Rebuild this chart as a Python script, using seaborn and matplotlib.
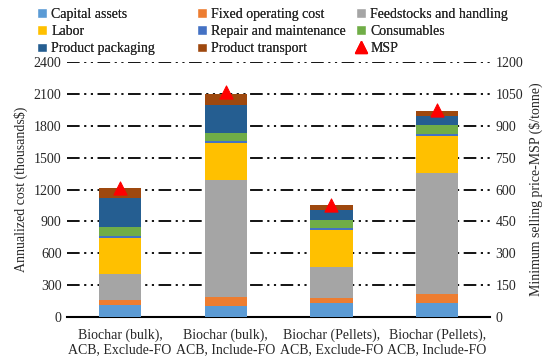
import numpy as np
import pandas as pd
import matplotlib
matplotlib.use('Agg')
import matplotlib.pyplot as plt
import seaborn as sns
from matplotlib.patches import Patch
from matplotlib.lines import Line2D

scenarios = ['Biochar (bulk),\nACB, Exclude-FO', 'Biochar (bulk),\nACB, Include-FO',
             'Biochar (Pellets),\nACB, Exclude-FO', 'Biochar (Pellets),\nACB, Include-FO']
components = ['Capital assets', 'Fixed operating cost', 'Feedstocks and handling', 'Labor',
              'Repair and maintenance', 'Consumables', 'Product packaging', 'Product transport']
capital = [113, 106, 129, 129]
fixed_op = [47, 85, 53, 84]
feedstock = [245, 1098, 285, 1145]
labor = [335, 346, 352, 348]
repair = [20, 20, 20, 20]
consumables = [90, 80, 73, 81]
packaging = [267, 265, 94, 85]
transport = [94, 95, 44, 47]
msp = [609, 1061, 528, 974]

colors = ['#5B9BD5', '#ED7D31', '#A5A5A5', '#FFC000', '#4472C4', '#70AD47', '#255E91', '#9E480E']

sns.set_style('white')
plt.rcParams['font.family'] = ['Liberation Serif', 'DejaVu Serif']

df = pd.DataFrame({'scenario': scenarios})
vals = [capital, fixed_op, feedstock, labor, repair, consumables, packaging, transport]
for name, v in zip(components, vals):
    df[name] = v
cum = df[components].cumsum(axis=1)

fig = plt.figure(figsize=(5.5, 3.61), dpi=100)
ax = fig.add_axes([0.122, 0.122, 0.769, 0.706])

# stacked bars: draw tallest cumulative first
for name, c in reversed(list(zip(components, colors))):
    sns.barplot(x=df['scenario'], y=cum[name], color=c, width=0.4, ax=ax,
                saturation=1, linewidth=0, edgecolor='none', zorder=3)

ax.set_ylim(0, 2400)
ax.set_xlim(-0.5, 3.5)
ax.set_yticks(np.arange(0, 2401, 300))
ax.set_ylabel('Annualized cost (thousands$)', fontsize=10)
ax.set_xlabel('')
ax.grid(axis='y', color='black', linewidth=1.3, dashes=(7, 2.5, 1.2, 2.5, 1.2, 2.5), zorder=0)
ax.set_axisbelow(True)
for s in ['top', 'right', 'left']:
    ax.spines[s].set_visible(False)
ax.spines['bottom'].set_color('black')
ax.spines['bottom'].set_linewidth(1.5)
ax.tick_params(axis='both', length=0, labelsize=10, pad=4)
ax.tick_params(axis='x', pad=8)

ax2 = ax.twinx()
sns.scatterplot(x=np.arange(len(scenarios)), y=msp, marker='^', color='red', s=90,
                edgecolor='red', ax=ax2, zorder=5)
ax2.set_ylim(0, 1200)
ax2.set_xlim(-0.5, 3.5)
ax2.set_yticks(np.arange(0, 1201, 150))
ax2.set_ylabel('Minimum selling price-MSP ($/tonne)', fontsize=10)
for s in ['top', 'right', 'left', 'bottom']:
    ax2.spines[s].set_visible(False)
ax2.tick_params(axis='y', length=0, labelsize=10, pad=4)

handles = [Patch(facecolor=c, label=n) for n, c in zip(components, colors)]
handles.append(Line2D([], [], marker='^', color='red', linestyle='none', markersize=8, label='MSP'))

# three evenly spaced legend columns, filled row by row
col_x = [0.068, 0.358, 0.648]
for j, x in enumerate(col_x):
    leg = fig.legend(handles=handles[j::3], loc='upper left', bbox_to_anchor=(x, 0.978),
                     ncol=1, frameon=False, fontsize=10, handlelength=0.7, handleheight=0.7,
                     handletextpad=0.3, labelspacing=0.3, borderpad=0, borderaxespad=0)
    fig.add_artist(leg)

fig.savefig('out.png', dpi=100)
